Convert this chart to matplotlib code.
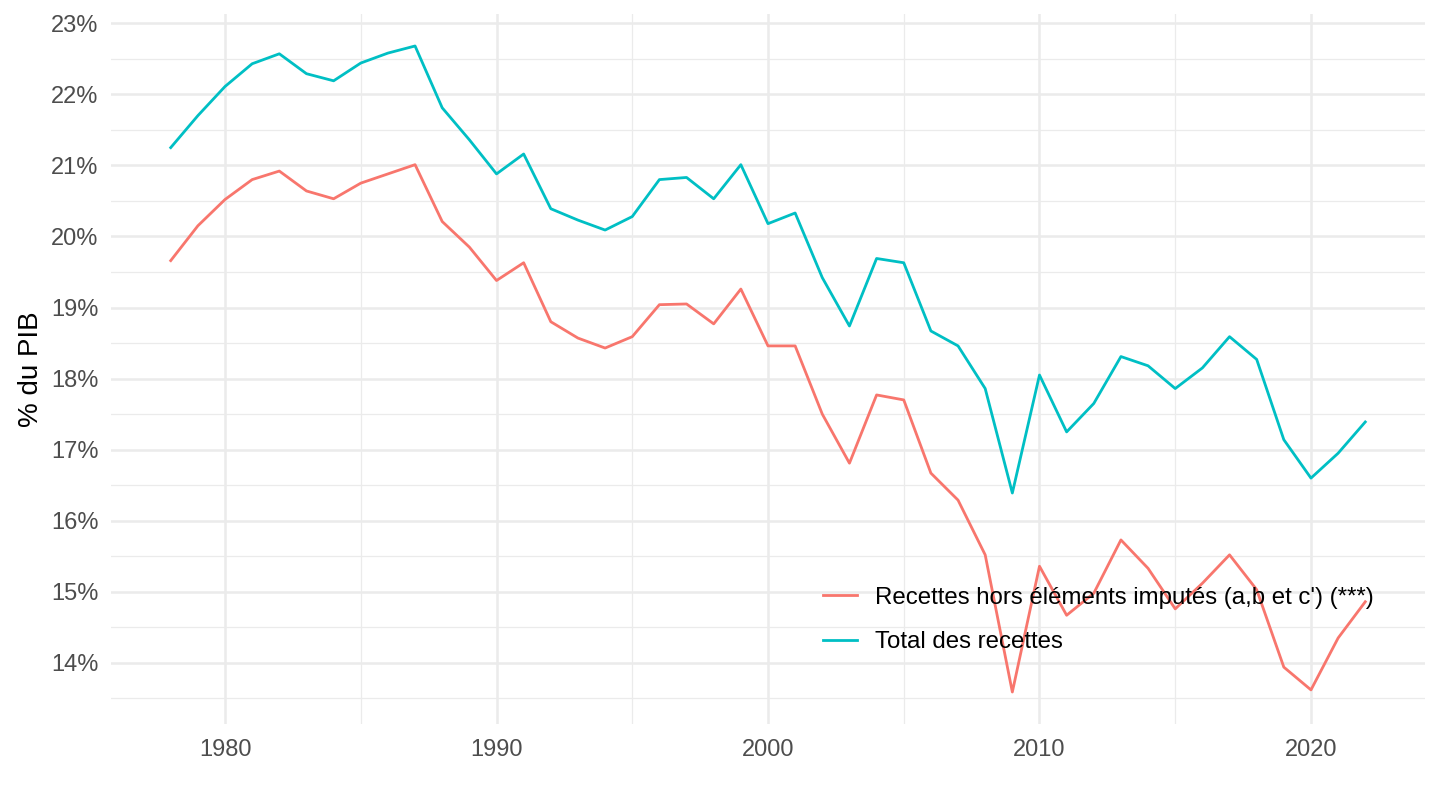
import numpy as np
import matplotlib
matplotlib.use('Agg')
import matplotlib.pyplot as plt
from matplotlib.ticker import MultipleLocator, FuncFormatter

plt.rcParams['font.family'] = ['Liberation Sans', 'DejaVu Sans']

# Data, % of GDP
years = list(range(1978, 2023))
total = [21.25, 21.70, 22.11, 22.43, 22.57, 22.29, 22.19, 22.44, 22.58, 22.68,
         21.81, 21.36, 20.88, 21.16, 20.39, 20.23, 20.09, 20.28, 20.80, 20.83,
         20.53, 21.01, 20.18, 20.33, 19.42, 18.74, 19.69, 19.63, 18.67, 18.46,
         17.86, 16.39, 18.05, 17.25, 17.65, 18.31, 18.18, 17.86, 18.15, 18.59,
         18.27, 17.14, 16.60, 16.95, 17.39]
hors_imputes = [19.66, 20.15, 20.52, 20.80, 20.92, 20.64, 20.53, 20.75, 20.88, 21.01,
                20.21, 19.85, 19.38, 19.63, 18.80, 18.57, 18.43, 18.59, 19.04, 19.05,
                18.77, 19.26, 18.46, 18.46, 17.50, 16.81, 17.77, 17.70, 16.67, 16.29,
                15.52, 13.59, 15.36, 14.67, 14.98, 15.73, 15.33, 14.76, 15.12, 15.52,
                15.03, 13.94, 13.62, 14.35, 14.86]

labels = ["Recettes hors éléments imputés (a,b et c') (***)", "Total des recettes"]
colors = ['#F8766D', '#00BFC4']

fig = plt.figure(figsize=(14.4, 8.1), dpi=100)
ax = fig.add_axes([111 / 1440, 1 - 724 / 810, (1425 - 111) / 1440, (724 - 14) / 810])

ax.plot(years, hors_imputes, color=colors[0], lw=2.0, label=labels[0])
ax.plot(years, total, color=colors[1], lw=2.0, label=labels[1])

ax.set_xlim(1975.8, 2024.2)
ax.set_ylim(13.14, 23.13)

ax.xaxis.set_major_locator(MultipleLocator(10))
ax.xaxis.set_minor_locator(MultipleLocator(5))
ax.yaxis.set_major_locator(MultipleLocator(1))
ax.yaxis.set_minor_locator(MultipleLocator(0.5))
ax.yaxis.set_major_formatter(FuncFormatter(lambda v, p: f'{v:.0f}%'))

ax.grid(which='major', color='#EBEBEB', lw=1.8)
ax.grid(which='minor', color='#EBEBEB', lw=0.9)
ax.set_axisbelow(True)
for s in ax.spines.values():
    s.set_visible(False)
ax.tick_params(which='both', length=0)
ax.tick_params(axis='y', labelsize=17, labelcolor='#4D4D4D', pad=9)
ax.tick_params(axis='x', labelsize=17, labelcolor='#4D4D4D', pad=11)

ax.set_ylabel('% du PIB', fontsize=20, color='black', labelpad=5)

leg = ax.legend(loc='center left', bbox_to_anchor=(801 / 1440, 1 - 620 / 810),
                bbox_transform=fig.transFigure, frameon=False,
                fontsize=17.3, handlelength=1.45, labelspacing=0.95, handletextpad=0.75)
for t in leg.get_texts():
    t.set_color('black')

fig.savefig('out.png', dpi=100, facecolor='white')
